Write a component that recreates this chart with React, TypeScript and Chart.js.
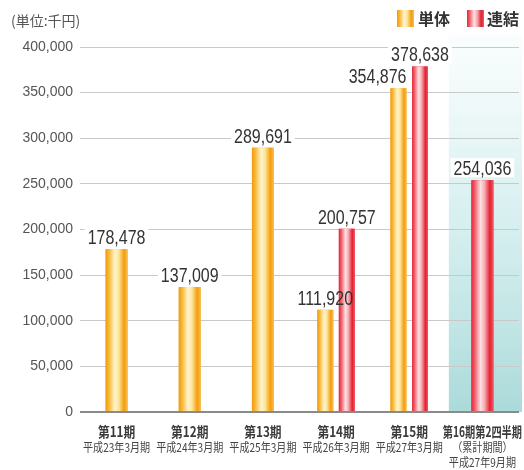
import { useEffect, useRef } from 'react';
import { Chart, registerables } from 'chart.js';

Chart.register(...registerables);

// ---- data ----
const periods = ['第11期', '第12期', '第13期', '第14期', '第15期', '第16期第2四半期'];
const periodNotes = [
  ['平成23年3月期'],
  ['平成24年3月期'],
  ['平成25年3月期'],
  ['平成26年3月期'],
  ['平成27年3月期'],
  ['（累計期間）', '平成27年9月期'],
];
const seriesNames = ['単体', '連結'];
const tandoku = [178478, 137009, 289691, 111920, 354876, null];
const renketsu = [null, null, null, 200757, 378638, 254036];
const yMin = 0;
const yMax = 400000;
const yStep = 50000;
const unitLabel = '(単位:千円)';
const shadedIndex = 5;

const YELLOW_STOPS: [number, string][] = [
  [0, '#f29a12'],
  [0.14, '#f7b52e'],
  [0.42, '#fff4cc'],
  [0.6, '#fde59a'],
  [0.84, '#f49d0e'],
  [1, '#f8c052'],
];
const RED_STOPS: [number, string][] = [
  [0, '#e52a3a'],
  [0.14, '#ee5866'],
  [0.42, '#fde2e4'],
  [0.6, '#f7aab1'],
  [0.84, '#e3202f'],
  [1, '#ef5a66'],
];
const STOPS = [YELLOW_STOPS, RED_STOPS];

function hasNarrow(): boolean {
  const c = document.createElement('canvas').getContext('2d');
  if (!c) return false;
  c.font = '20px "Liberation Sans Narrow", "Liberation Sans"';
  const a = c.measureText('000000').width;
  c.font = '20px "Liberation Sans"';
  const b = c.measureText('000000').width;
  return Math.abs(a - b) > 1;
}

function hGrad(ctx: CanvasRenderingContext2D, left: number, width: number, stops: [number, string][]) {
  const g = ctx.createLinearGradient(left, 0, left + width, 0);
  stops.forEach(([o, c]) => g.addColorStop(o, c));
  return g;
}

function drawCondensed(
  ctx: CanvasRenderingContext2D,
  text: string,
  x: number,
  y: number,
  font: string,
  color: string,
  sx: number,
  align: CanvasTextAlign = 'center',
  baseline: CanvasTextBaseline = 'middle'
) {
  ctx.save();
  ctx.font = font;
  ctx.fillStyle = color;
  ctx.textAlign = align;
  ctx.textBaseline = baseline;
  ctx.translate(x, y);
  ctx.scale(sx, 1);
  ctx.fillText(text, 0, 0);
  ctx.restore();
}

export default function App() {
  const ref = useRef<HTMLCanvasElement | null>(null);

  useEffect(() => {
    if (!ref.current) return;
    const narrow = hasNarrow();
    const numFamily = narrow ? '"Liberation Sans Narrow", "Liberation Sans"' : '"Liberation Sans"';
    const numSx = narrow ? 1 : 0.82;
    const valueFont = `19.5px ${numFamily}`;
    const cjk = '"Noto Sans CJK JP", "Noto Sans CJK SC", sans-serif';

    const fmt = (v: number) => v.toLocaleString('en-US');

    // compute label layout from bar elements
    const labelLayout = (chart: any) => {
      const out: { text: string; x: number; y: number; w: number }[] = [];
      const ctx = chart.ctx as CanvasRenderingContext2D;
      ctx.save();
      ctx.font = valueFont;
      const metas = [chart.getDatasetMeta(0), chart.getDatasetMeta(1)];
      const data = [tandoku, renketsu];
      for (let d = 0; d < 2; d++) {
        metas[d].data.forEach((el: any, i: number) => {
          const v = data[d][i];
          if (v == null) return;
          const p = el.getProps(['x', 'y', 'base', 'width'], true);
          const text = fmt(v);
          const w = ctx.measureText(text).width * numSx;
          let x = p.x;
          const y = p.y - 5;
          if (d === 0) {
            const ov = data[1][i];
            if (ov != null) {
              const op = metas[1].data[i].getProps(['y'], true);
              if (op.y < p.y && p.y - op.y < 30) {
                x = p.x + p.width / 2 - w / 2;
              }
            }
          }
          out.push({ text, x, y, w });
        });
      }
      ctx.restore();
      return out;
    };

    const decor = {
      id: 'decor',
      beforeDraw(chart: any) {
        const { ctx, chartArea, scales } = chart;
        const x = scales.x;
        const half = (x.getPixelForValue(1) - x.getPixelForValue(0)) / 2;
        const cx = x.getPixelForValue(shadedIndex);
        const top = chartArea.top - 12;
        const g = ctx.createLinearGradient(0, top, 0, chartArea.bottom);
        g.addColorStop(0, 'rgba(220,242,242,0.15)');
        g.addColorStop(0.35, 'rgba(205,236,236,0.6)');
        g.addColorStop(1, '#abdada');
        ctx.save();
        ctx.fillStyle = g;
        ctx.fillRect(cx - half + 3, top, half * 2, chartArea.bottom - top);
        ctx.restore();
      },
      beforeDatasetsDraw(chart: any) {
        const ctx = chart.ctx as CanvasRenderingContext2D;
        const labels = labelLayout(chart);
        ctx.save();
        labels.forEach((l) => {
          ctx.fillStyle = '#ffffff';
          ctx.fillRect(l.x - l.w / 2 - 3, l.y - 17, l.w + 6, 19);
        });
        ctx.restore();
      },
      afterDatasetsDraw(chart: any) {
        const ctx = chart.ctx as CanvasRenderingContext2D;
        for (let d = 0; d < 2; d++) {
          const meta = chart.getDatasetMeta(d);
          meta.data.forEach((el: any, i: number) => {
            const v = d === 0 ? tandoku[i] : renketsu[i];
            if (v == null) return;
            const p = el.getProps(['x', 'y', 'base', 'width'], true);
            const left = p.x - p.width / 2;
            ctx.save();
            ctx.fillStyle = hGrad(ctx, left, p.width, STOPS[d]);
            ctx.fillRect(left, p.y, p.width, p.base - p.y);
            ctx.restore();
          });
        }
        labelLayout(chart).forEach((l) => {
          drawCondensed(ctx, l.text, l.x, l.y, valueFont, '#333333', numSx, 'center', 'alphabetic');
        });
      },
      afterDraw(chart: any) {
        const ctx = chart.ctx as CanvasRenderingContext2D;
        const x = chart.scales.x;
        const cw = x.getPixelForValue(1) - x.getPixelForValue(0);
        // category labels
        periods.forEach((p, i) => {
          const cx = x.getPixelForValue(i);
          ctx.save();
          ctx.font = `bold 14px ${cjk}`;
          const w = ctx.measureText(p).width;
          ctx.restore();
          const sx1 = Math.min(0.84, (cw + 6) / w);
          drawCondensed(ctx, p, cx, 432, `bold 14px ${cjk}`, '#3a3a3a', sx1);
          periodNotes[i].forEach((n, k) => {
            drawCondensed(ctx, n, cx, 447 + k * 15, `12px ${cjk}`, '#444444', 0.84);
          });
        });
        // unit label
        drawCondensed(ctx, unitLabel, 11, 21, `14px ${cjk}`, '#555555', 1, 'left');
        // legend
        const items = [
          { sw: 397, tx: 418, text: seriesNames[0], stops: YELLOW_STOPS },
          { sw: 467, tx: 487, text: seriesNames[1], stops: RED_STOPS },
        ];
        items.forEach((it) => {
          ctx.save();
          ctx.fillStyle = hGrad(ctx, it.sw, 17, it.stops);
          ctx.fillRect(it.sw, 10, 17, 17);
          ctx.restore();
          drawCondensed(ctx, it.text, it.tx, 19, `bold 16px ${cjk}`, '#333333', 1, 'left');
        });
      },
    };

    const chart = new Chart(ref.current, {
      type: 'bar',
      data: {
        labels: periods,
        datasets: [
          {
            label: seriesNames[0],
            data: tandoku,
            backgroundColor: '#f5a623',
            skipNull: true,
            categoryPercentage: 0.588,
            barPercentage: 0.744,
            maxBarThickness: 22,
          } as any,
          {
            label: seriesNames[1],
            data: renketsu,
            backgroundColor: '#e52a3a',
            skipNull: true,
            categoryPercentage: 0.588,
            barPercentage: 0.744,
            maxBarThickness: 22,
          } as any,
        ],
      },
      options: {
        responsive: false,
        animation: false,
        layout: { padding: { top: 47, bottom: 58, right: 5, left: 0 } },
        plugins: {
          legend: { display: false },
          tooltip: { enabled: false },
        },
        scales: {
          x: {
            display: false,
          },
          y: {
            min: yMin,
            max: yMax,
            ticks: {
              stepSize: yStep,
              padding: 7,
              color: '#555555',
              font: { family: numFamily, size: narrow ? 17 : 14 },
              callback: (v: any) => fmt(Number(v)),
            },
            border: { display: false },
            grid: {
              drawTicks: false,
              color: (c: any) => (c.tick && c.tick.value === 0 ? '#8a8a8a' : '#c9c9c9'),
              lineWidth: (c: any) => (c.tick && c.tick.value === 0 ? 2 : 1),
            },
            afterFit: (s: any) => {
              s.width = 80;
            },
          },
        },
      },
      plugins: [decor],
    });
    return () => chart.destroy();
  }, []);

  return (
    <div style={{ position: 'absolute', left: 0, top: 0, width: 524, height: 470, background: '#fff' }}>
      <canvas ref={ref} width={524} height={470} />
    </div>
  );
}
